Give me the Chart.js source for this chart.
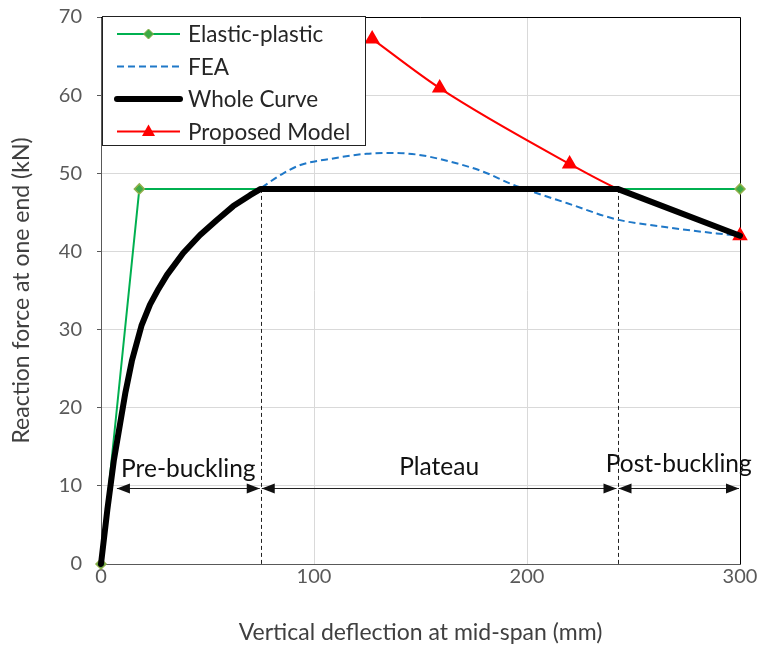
<!DOCTYPE html>
<html>
<head>
<meta charset="utf-8">
<script src="https://cdn.jsdelivr.net/npm/chart.js@4.4.1/dist/chart.umd.min.js"></script>
<style>
  html, body { margin: 0; padding: 0; background: #fff; }
  #wrap { width: 763px; height: 651px; }
</style>
</head>
<body>
<div id="wrap"><canvas id="c" width="763" height="651"></canvas></div>
<script>
// ---- Data ----
const elasticX = [0, 18, 300];
const elasticY = [0, 48, 48];

const wholeX = [0, 3, 6, 9, 11.5, 14.5, 19, 23, 27, 31, 38.6, 46.5, 54.3, 62.1, 70, 75, 242.5, 300];
const wholeY = [0, 7, 13.2, 18, 22, 26, 30.5, 33.2, 35.2, 37, 39.8, 42.1, 44.0, 45.8, 47.2, 48, 48, 42];

const feaX = [0, 3, 6, 9, 11.5, 14.5, 19, 23, 27, 31, 38.6, 46.5, 54.3, 62.1, 70, 75, 85.6, 94, 109, 124.7, 135.7, 148.2, 163.8, 179.5, 192, 203, 218.6, 242.1, 265.6, 289, 300];
const feaY = [0, 7, 13.2, 18, 22, 26, 30.5, 33.2, 35.2, 37, 39.8, 42.1, 44.0, 45.8, 47.2, 48.1, 50, 51.1, 51.9, 52.5, 52.6, 52.4, 51.5, 50.2, 48.7, 47.6, 46.2, 44.1, 43.1, 42.3, 42.0];

const proposedX = [127.3, 159, 220, 242.5, 300];
const proposedY = [67.2, 60.9, 51.2, 48, 42];
const proposedMarker = [7, 7, 7, 0, 7];

const regionBounds = [7, 75, 242.5, 300];
const regionLabels = ['Pre-buckling', 'Plateau', 'Post-buckling'];
const regionLabelY = [11.1, 11.4, 11.8];
const arrowY = 9.7;
const dividerX = [75, 242.5];
const dividerTop = 48;

const xTicks = [0, 100, 200, 300];
const yTicks = [0, 10, 20, 30, 40, 50, 60, 70];

const pts = (xs, ys) => xs.map((x, i) => ({ x: x, y: ys[i] }));

const FONT = 'Lato, Carlito, "Open Sans", sans-serif';

const overlay = {
  id: 'overlay',
  beforeDatasetsDraw(chart) {
    const { ctx, chartArea: a } = chart;
    ctx.save();
    ctx.strokeStyle = '#000';
    ctx.lineWidth = 1;
    ctx.beginPath();
    ctx.moveTo(a.left, a.top + 0.5);
    ctx.lineTo(a.right + 0.5, a.top + 0.5);
    ctx.lineTo(a.right + 0.5, a.bottom);
    ctx.stroke();
    // dashed dividers
    const xs = chart.scales.x, ys = chart.scales.y;
    ctx.setLineDash([4, 3]);
    ctx.strokeStyle = '#222';
    dividerX.forEach(v => {
      const px = Math.round(xs.getPixelForValue(v)) + 0.5;
      ctx.beginPath();
      ctx.moveTo(px, ys.getPixelForValue(dividerTop));
      ctx.lineTo(px, ys.getPixelForValue(0));
      ctx.stroke();
    });
    ctx.restore();
  },
  afterDraw(chart) {
    const { ctx, chartArea: a } = chart;
    const xs = chart.scales.x, ys = chart.scales.y;
    ctx.save();
    // arrows
    const py = Math.round(ys.getPixelForValue(arrowY)) + 0.5;
    ctx.strokeStyle = '#222';
    ctx.fillStyle = '#111';
    ctx.lineWidth = 1;
    const head = (tipX, dir) => {
      ctx.beginPath();
      ctx.moveTo(tipX, py);
      ctx.lineTo(tipX - dir * 13, py - 5);
      ctx.lineTo(tipX - dir * 13, py + 5);
      ctx.closePath();
      ctx.fill();
    };
    for (let i = 0; i < regionLabels.length; i++) {
      const x0 = xs.getPixelForValue(regionBounds[i]) + 1;
      const x1 = xs.getPixelForValue(regionBounds[i + 1]) - 1;
      ctx.beginPath();
      ctx.moveTo(x0, py);
      ctx.lineTo(x1, py);
      ctx.stroke();
      ctx.fillStyle = '#111';
      head(x0, -1);
      head(x1, 1);
      const mid = xs.getPixelForValue((regionBounds[i] + regionBounds[i + 1]) / 2);
      ctx.font = '24.5px ' + FONT;
      ctx.textAlign = 'center';
      ctx.textBaseline = 'alphabetic';
      ctx.fillStyle = '#111';
      ctx.fillText(regionLabels[i], mid, ys.getPixelForValue(regionLabelY[i]));
    }
    // legend box
    const lx0 = a.left + 1, ly0 = a.top - 1, lx1 = a.left + 265, ly1 = a.top + 129;
    ctx.fillStyle = '#fff';
    ctx.fillRect(lx0, ly0, lx1 - lx0, ly1 - ly0);
    ctx.strokeStyle = '#222';
    ctx.lineWidth = 1;
    ctx.strokeRect(lx0 + 0.5, ly0 + 0.5, lx1 - lx0 - 1, ly1 - ly0 - 1);
    const dsets = chart.data.datasets;
    const order = [0, 1, 2, 3];
    order.forEach((di, row) => {
      const d = dsets[di];
      const cy = ly0 + 18 + row * 32.5;
      const sx0 = lx0 + 15, sx1 = lx0 + 78;
      ctx.save();
      ctx.strokeStyle = d.borderColor;
      ctx.lineWidth = d.borderWidth;
      ctx.lineCap = d.borderWidth > 3 ? 'round' : 'butt';
      ctx.setLineDash(d.borderDash || []);
      ctx.beginPath();
      ctx.moveTo(sx0, cy);
      ctx.lineTo(sx1, cy);
      ctx.stroke();
      ctx.restore();
      const mx = (sx0 + sx1) / 2;
      if (d.pointStyle === 'rectRot') {
        ctx.fillStyle = d.pointBackgroundColor;
        ctx.strokeStyle = d.pointBorderColor;
        ctx.beginPath();
        ctx.moveTo(mx, cy - 5); ctx.lineTo(mx + 5, cy); ctx.lineTo(mx, cy + 5); ctx.lineTo(mx - 5, cy); ctx.closePath();
        ctx.fill(); ctx.stroke();
      } else if (d.pointStyle === 'triangle') {
        ctx.fillStyle = d.pointBackgroundColor;
        ctx.beginPath();
        ctx.moveTo(mx, cy - 7); ctx.lineTo(mx + 6.5, cy + 4.5); ctx.lineTo(mx - 6.5, cy + 4.5); ctx.closePath();
        ctx.fill();
      }
      ctx.fillStyle = '#262626';
      ctx.font = '22.5px ' + FONT;
      ctx.textAlign = 'left';
      ctx.textBaseline = 'middle';
      ctx.fillText(d.label, lx0 + 86, cy + 1);
    });
    ctx.restore();
  }
};

new Chart(document.getElementById('c'), {
  type: 'scatter',
  data: {
    datasets: [
      {
        label: 'Elastic-plastic',
        data: pts(elasticX, elasticY),
        showLine: true,
        borderColor: '#00B050',
        borderWidth: 2,
        pointStyle: 'rectRot',
        pointRadius: 5,
        pointBackgroundColor: '#3DAA45',
        pointBorderColor: '#8FAF4A',
        pointBorderWidth: 1.5,
        order: 4
      },
      {
        label: 'FEA',
        data: pts(feaX, feaY),
        showLine: true,
        borderColor: '#1F78C8',
        borderWidth: 2,
        borderDash: [7, 4],
        pointRadius: 0,
        cubicInterpolationMode: 'monotone',
        order: 3
      },
      {
        label: 'Whole Curve',
        data: pts(wholeX, wholeY),
        showLine: true,
        borderColor: '#000000',
        borderWidth: 6,
        borderJoinStyle: 'round',
        borderCapStyle: 'round',
        pointRadius: 0,
        tension: 0,
        order: 1
      },
      {
        label: 'Proposed Model',
        data: pts(proposedX, proposedY),
        showLine: true,
        borderColor: '#FF0000',
        borderWidth: 2,
        pointStyle: 'triangle',
        pointRadius: proposedMarker,
        pointBackgroundColor: '#FF0000',
        pointBorderColor: '#FF0000',
        cubicInterpolationMode: 'monotone',
        order: 2
      }
    ]
  },
  options: {
    responsive: false,
    animation: false,
    clip: false,
    layout: { padding: { left: 0, right: 23, top: 17, bottom: 0 } },
    plugins: { legend: { display: false }, tooltip: { enabled: false } },
    scales: {
      x: {
        type: 'linear',
        min: 0, max: 300,
        afterBuildTicks: s => { s.ticks = xTicks.map(v => ({ value: v })); },
        afterFit: s => { s.height = 87; s.paddingLeft = 0; s.paddingRight = 0; },
        grid: { color: '#D9D9D9', drawTicks: false, lineWidth: 1 },
        border: { color: '#595959', width: 1 },
        ticks: { color: '#595959', font: { family: FONT, size: 20 }, padding: 1, maxRotation: 0 },
        title: { display: true, text: 'Vertical deflection at mid-span (mm)', color: '#404040', font: { family: FONT, size: 23 }, padding: { top: 0, bottom: 5 } }
      },
      y: {
        type: 'linear',
        min: 0, max: 70,
        afterBuildTicks: s => { s.ticks = yTicks.map(v => ({ value: v })); },
        afterFit: s => { s.width = 101; s.paddingTop = 0; s.paddingBottom = 0; },
        grid: { color: '#D9D9D9', tickColor: '#595959', tickLength: 4, lineWidth: 1 },
        border: { color: '#595959', width: 1 },
        ticks: { color: '#595959', font: { family: FONT, size: 20 }, padding: 15 },
        title: { display: true, text: 'Reaction force at one end (kN)', color: '#404040', font: { family: FONT, size: 23 }, padding: { top: 8, bottom: 0 } }
      }
    }
  },
  plugins: [overlay]
});
</script>
</body>
</html>
